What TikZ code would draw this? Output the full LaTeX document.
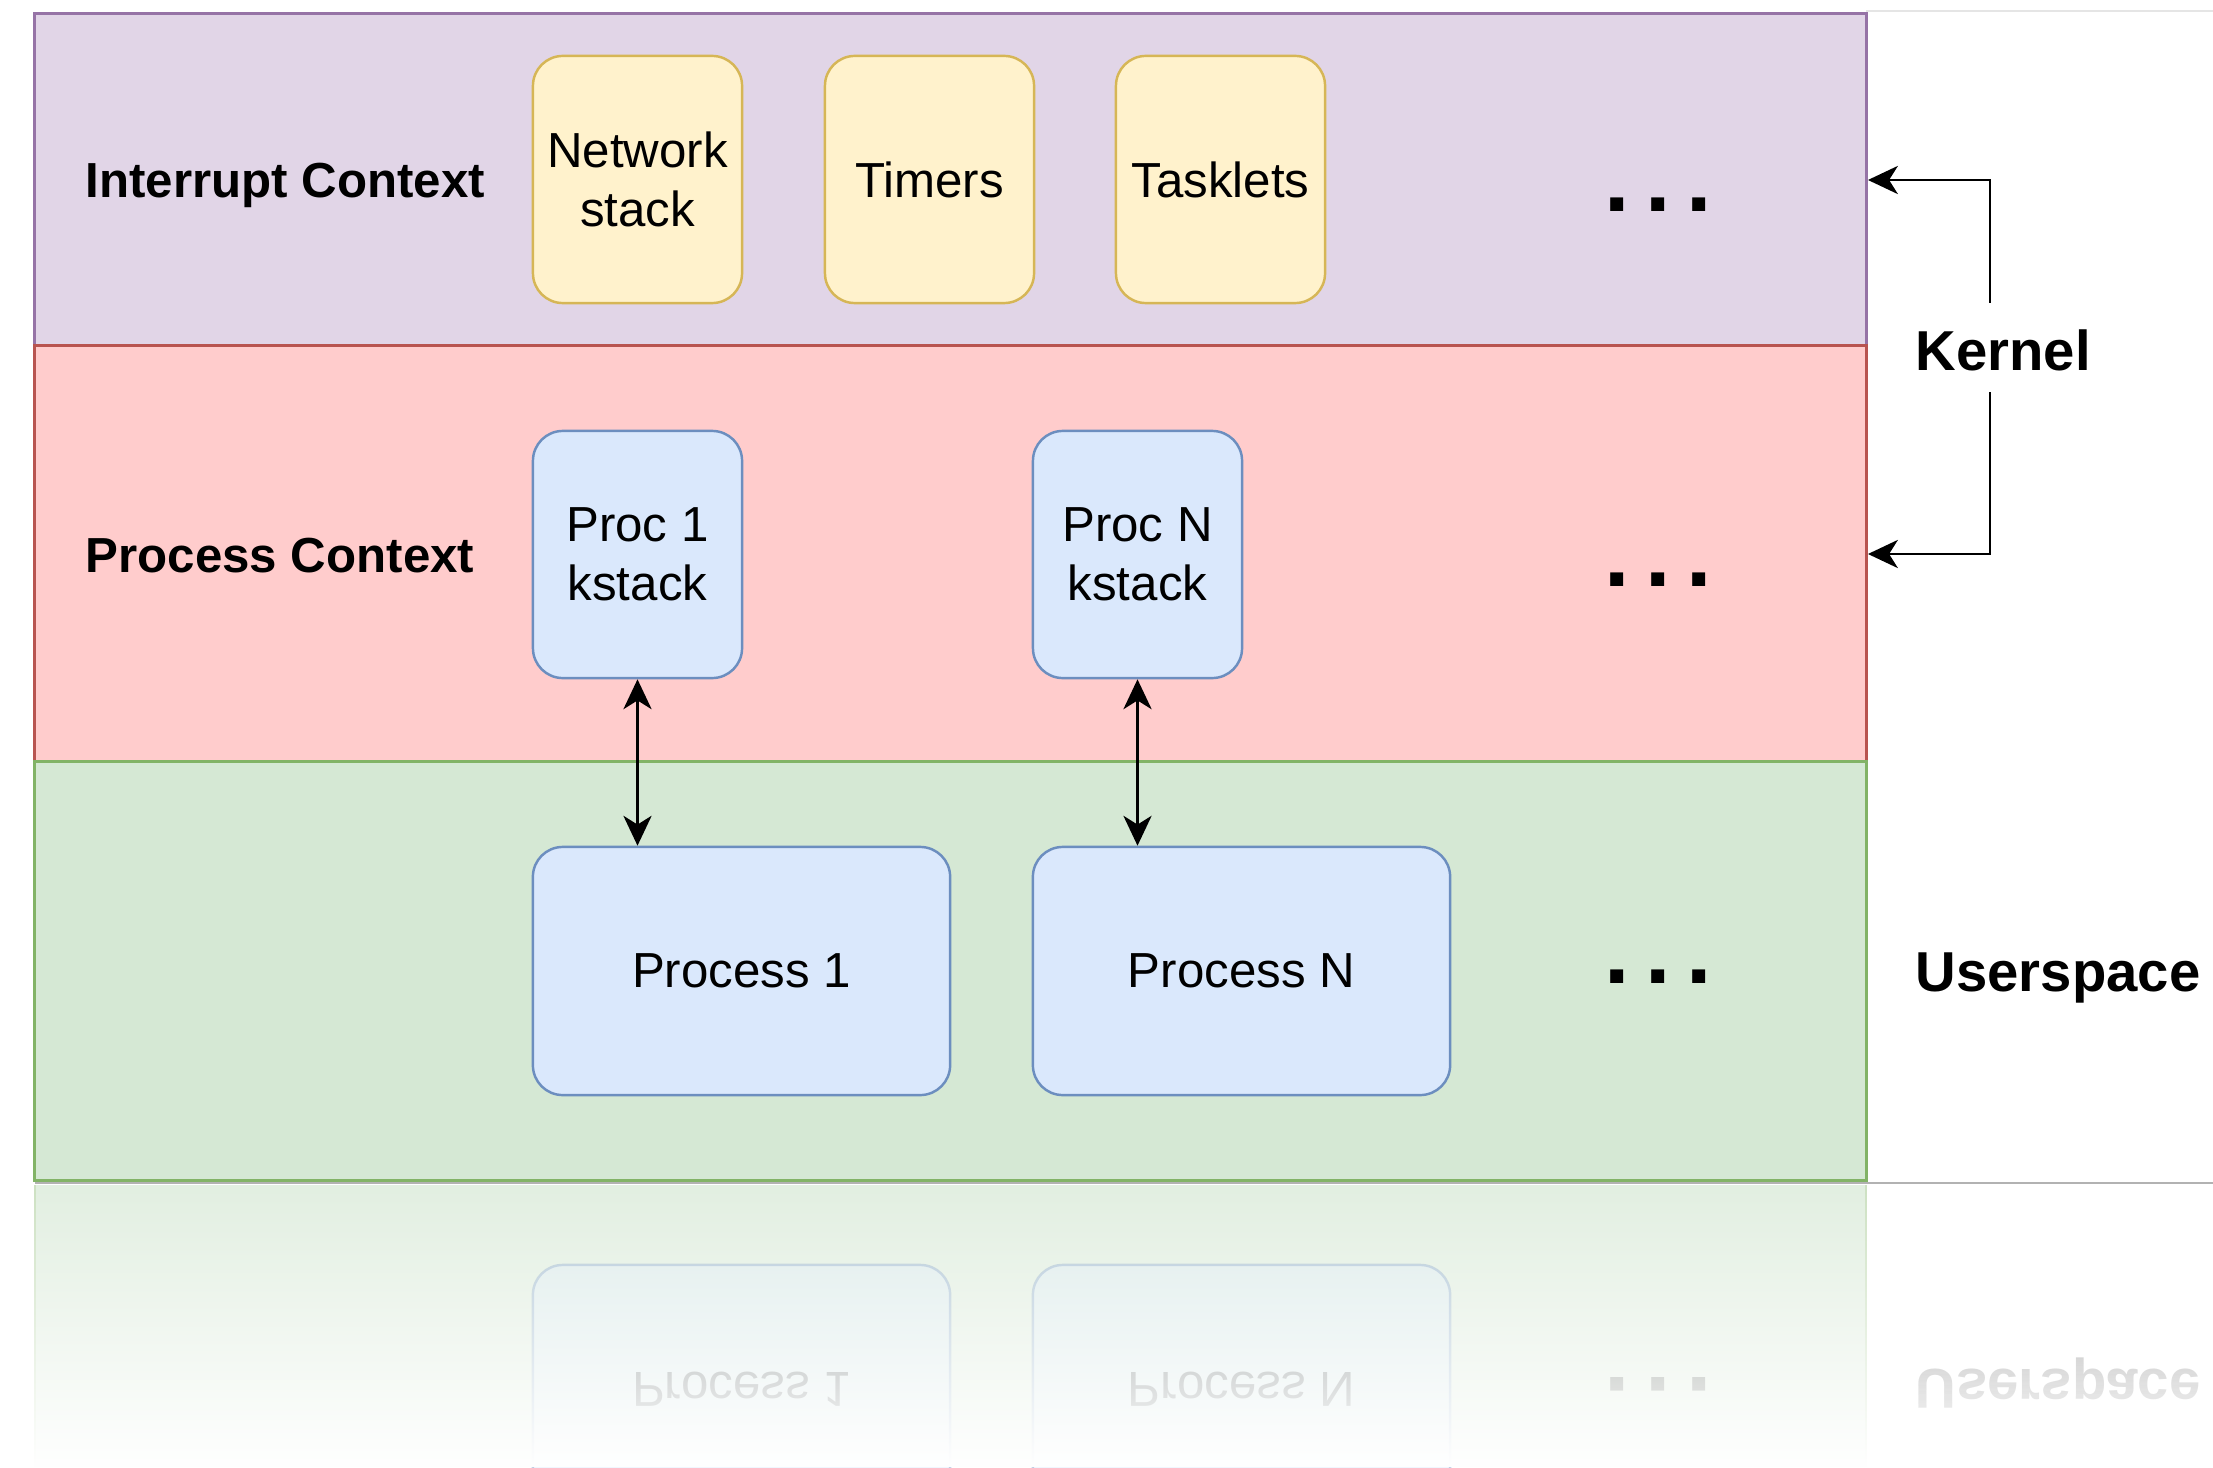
\documentclass[tikz,border=0pt]{standalone}
\usepackage{fontspec}
\setmainfont{Liberation Sans}
\usetikzlibrary{arrows.meta,fadings}
\definecolor{irqfill}{HTML}{E1D5E7}
\definecolor{irqline}{HTML}{9673A6}
\definecolor{procfill}{HTML}{FFCCCC}
\definecolor{procline}{HTML}{B85450}
\definecolor{userfill}{HTML}{D5E8D4}
\definecolor{userline}{HTML}{82B366}
\definecolor{yelfill}{HTML}{FFF2CC}
\definecolor{yelline}{HTML}{D6B656}
\definecolor{bluefill}{HTML}{DAE8FC}
\definecolor{blueline}{HTML}{6C8EBF}
\newcommand{\dotrow}{\makebox[11.6pt]{.}\makebox[11.6pt]{.}\makebox[11.6pt]{.}}
\tikzfading[name=fadeup, top color=transparent!100, bottom color=transparent!0]
\tikzset{
    band/.style={rectangle,draw,line width=0.8pt,inner sep=0pt,minimum width=18.31cm},
    irqbox/.style={rectangle,draw=yelline,fill=yelfill,line width=0.7pt,rounded corners=8.5pt,
        minimum width=2.09cm,minimum height=2.47cm,align=center,inner sep=2pt},
    kbox/.style={irqbox,draw=blueline,fill=bluefill},
    ubox/.style={kbox,minimum width=4.17cm,minimum height=2.48cm},
    ctxlabel/.style={font=\fontsize{14}{16.8}\selectfont\bfseries,anchor=base west,inner sep=0pt},
    sidelabel/.style={font=\fontsize{16}{19}\selectfont\bfseries,anchor=base west,inner sep=0pt},
    dots/.style={font=\fontsize{26}{26}\selectfont\bfseries,anchor=base,inner sep=0pt},
    edge/.style={->,> = {Stealth[length=8.5pt,width=8pt,inset=2.5pt]},line width=0.8pt}
}
\begin{document}
\begin{tikzpicture}[x=0.01cm,y=-0.01cm,font=\fontsize{14}{16.8}\selectfont]
\useasboundingbox (0,0) rectangle (2213,1467);
                        % window edges
                            \draw[gray!20,line width=0.6pt] (1866,11) -- (2213,11);
                            \draw[gray!60,line width=0.7pt] (35,1183) -- (2213,1183);
                        % bands
                            \node[band,draw=irqline,fill=irqfill,minimum height=3.32cm] (intr) at (950.5,180) {};
                            \node[band,draw=procline,fill=procfill,minimum height=4.16cm] (procctx) at (950.5,554) {};
                            \node[band,draw=userline,fill=userfill,minimum height=4.18cm] (userctx) at (950.5,971) {};
                            \node[ctxlabel] (intrlabel) at (85,198) {Interrupt Context};
                            \node[ctxlabel] (proclabel) at (85,572) {Process Context};
                        % interrupt context
                            \node[irqbox] (netstack) at (637.5,179.5) {Network\\stack};
                            \node[irqbox] (timers) at (929.5,179.5) {Timers};
                            \node[irqbox] (tasklets) at (1220.5,179.5) {Tasklets};
                            \node[dots] (intrdots) at (1658,212) {\dotrow};
                        % process context
                            \node[kbox] (pk1) at (637.5,554.5) {Proc 1\\kstack};
                            \node[kbox] (pkn) at (1137.5,554.5) {Proc N\\kstack};
                            \node[dots] (procdots) at (1658,586) {\dotrow};
                        % userspace
                            \node[ubox] (pu1) at (741.5,971) {Process 1};
                            \node[ubox] (pun) at (1241.5,971) {Process N};
                            \node[dots] (userdots) at (1658,983) {\dotrow};
                        % side labels
                            \node[sidelabel] (kernel) at (1915,370) {Kernel};
                            \node[sidelabel] (userspace) at (1915,991) {Userspace};
                            \coordinate (ktop) at (1990,303);
                            \coordinate (kbot) at (1990,392);
                        %edges
                        \draw[edge,<->] (pk1.south) -- (pk1.south |- pu1.north);
                        \draw[edge,<->] (pkn.south) -- (pkn.south |- pun.north);
                        \draw[edge] (ktop) |- (intr.east);
                        \draw[edge] (kbot) |- (procctx.east);
                        % reflection
                        \begin{scope}
                            \clip (0,1185) rectangle (2213,1467);
                            \fill[userfill!70] (35,1185) rectangle (1866,1467);
                            \draw[userline!40,line width=0.6pt] (35,1185) -- (35,1467);
                            \draw[userline!40,line width=0.6pt] (1866,1185) -- (1866,1467);
                            \node[ubox,opacity=0.4,yscale=-1,transform shape] (pu1r) at (741.5,1389) {Process 1};
                            \node[ubox,opacity=0.4,yscale=-1,transform shape] (punr) at (1241.5,1389) {Process N};
                            \node[dots,opacity=0.4,yscale=-1,transform shape] (userdotsr) at (1658,1377) {\dotrow};
                            \node[sidelabel,opacity=0.4,yscale=-1,transform shape] (userspacer) at (1915,1369) {Userspace};
                            \fill[white,path fading=fadeup] (0,1185) rectangle (2213,1467);
                        \end{scope}
                        \end{tikzpicture}
\end{document}
